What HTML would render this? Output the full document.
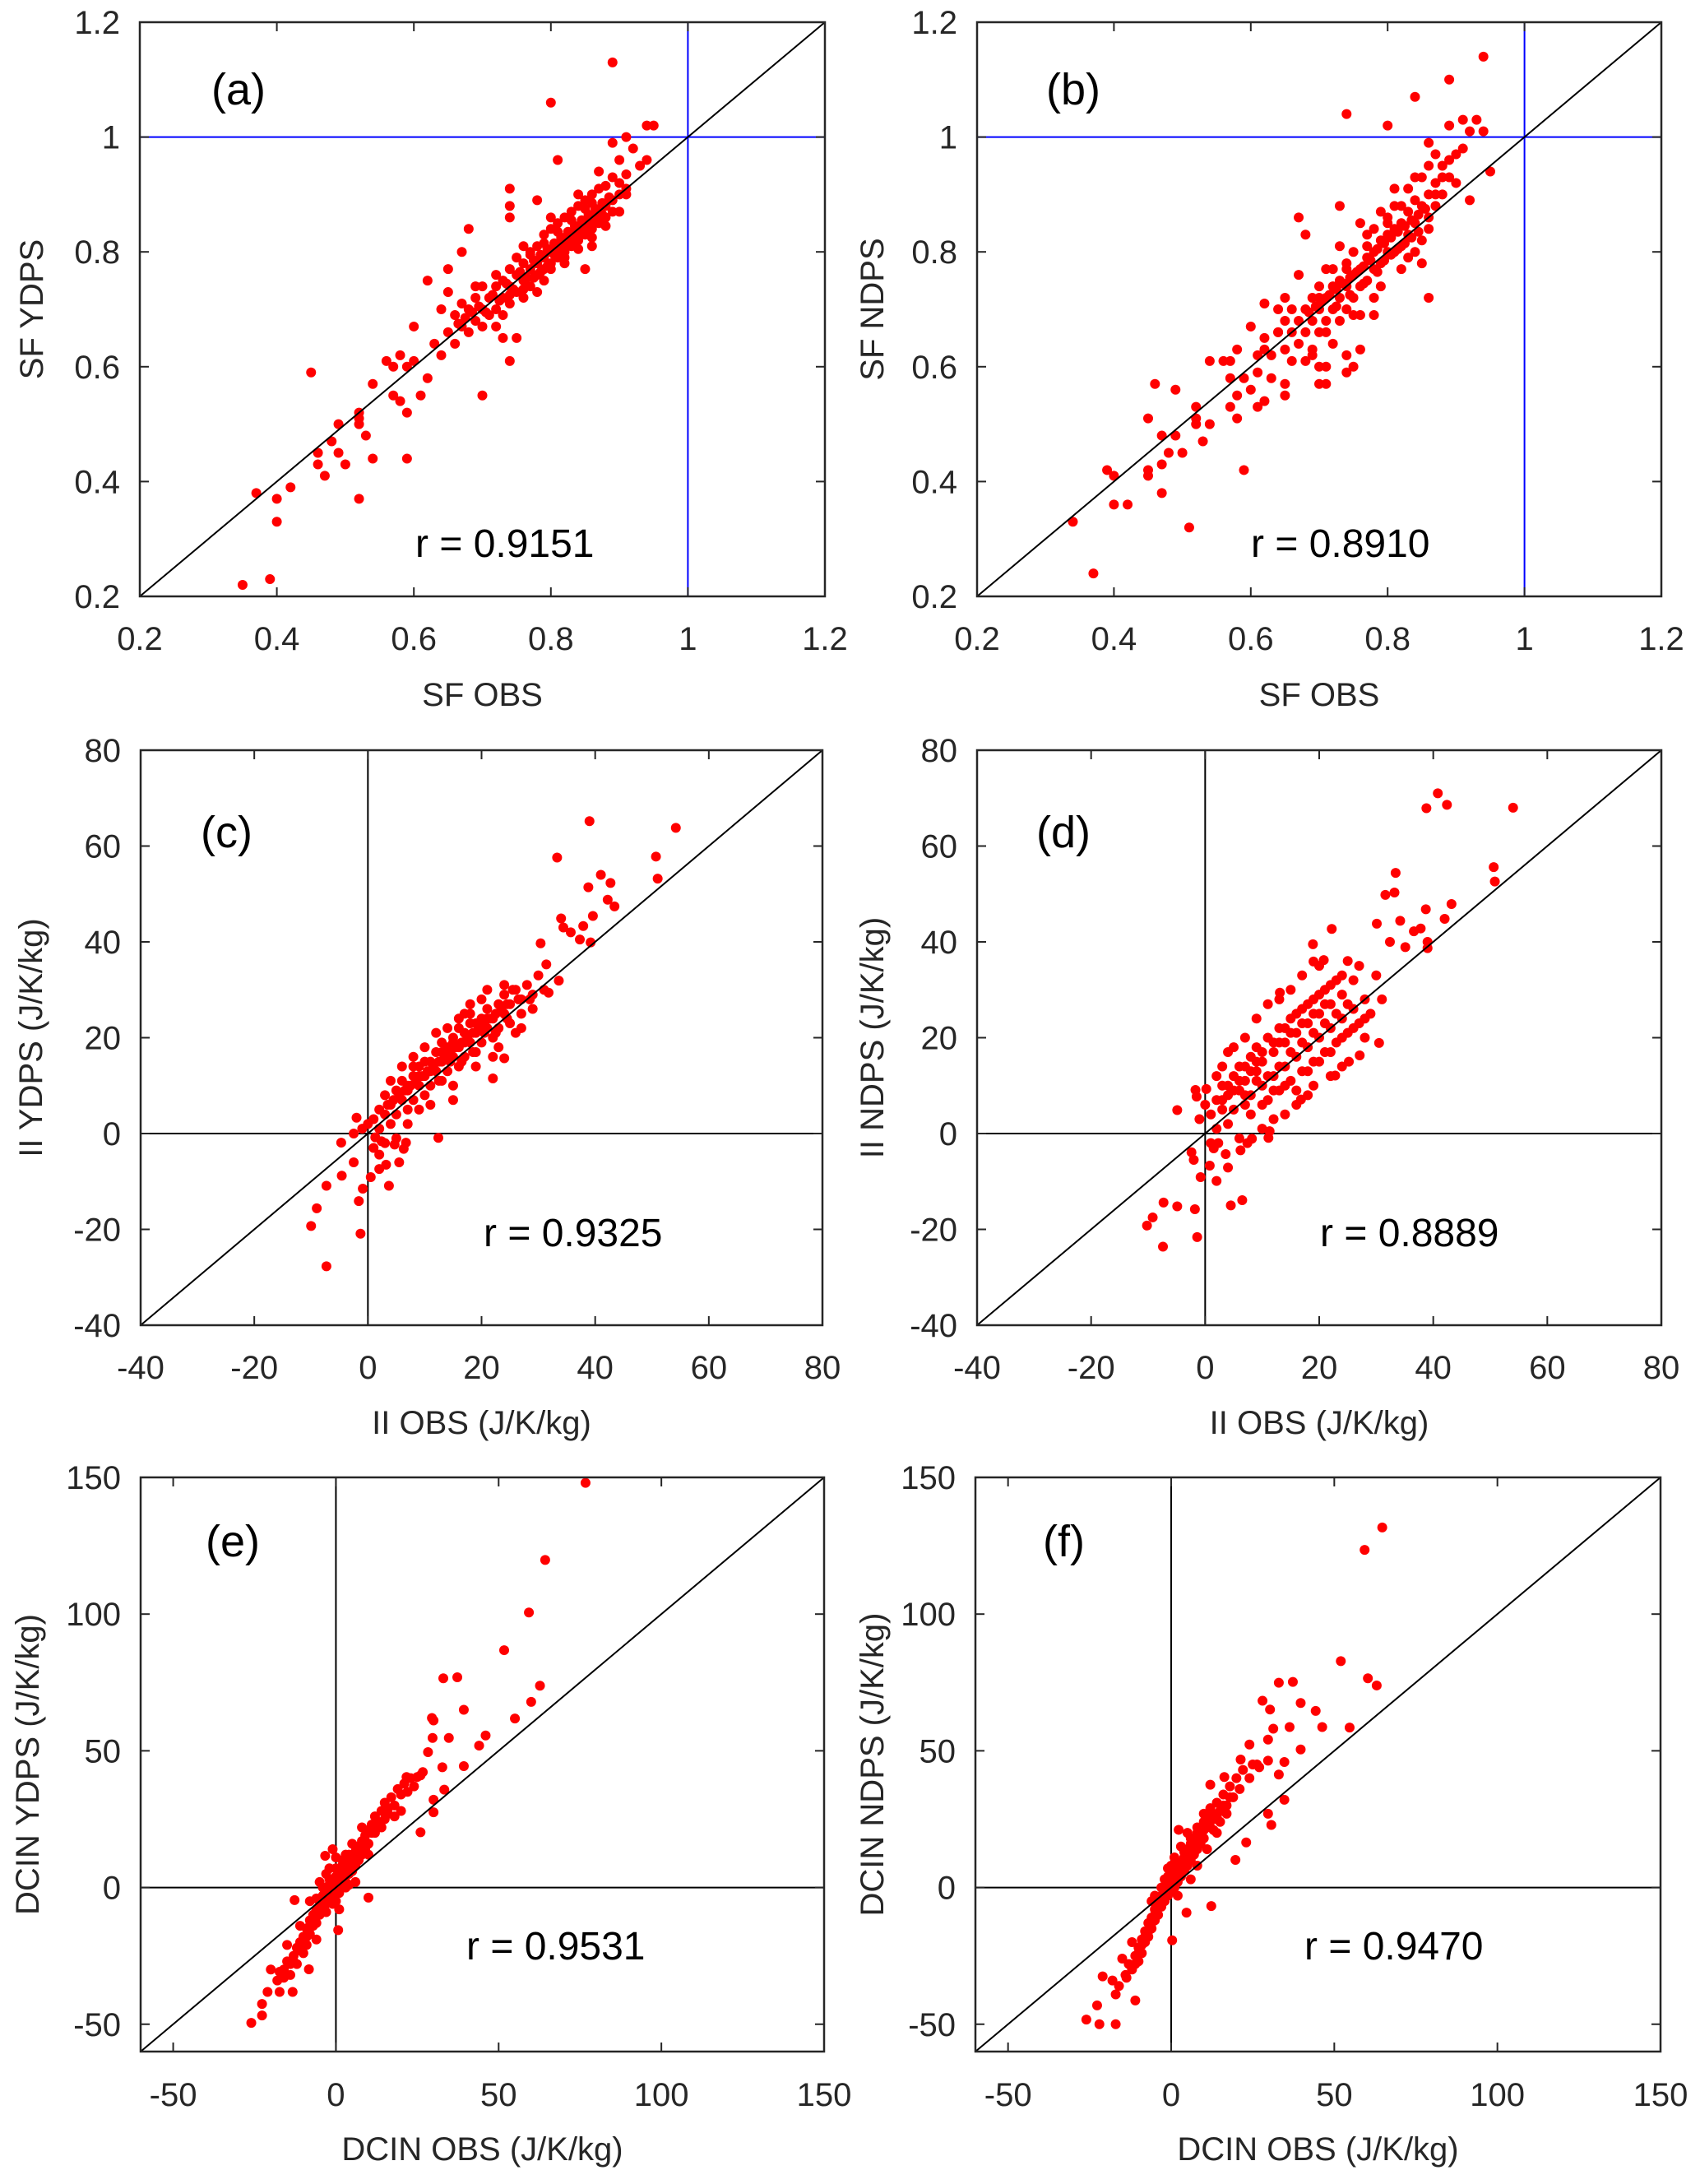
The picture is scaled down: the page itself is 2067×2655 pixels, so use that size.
<!DOCTYPE html>
<html><head><meta charset="utf-8"><style>
html,body{margin:0;padding:0;background:#fff;}
svg{display:block;font-family:"Liberation Sans",sans-serif;}
</style></head><body>
<svg id="fig" width="2067" height="2655" viewBox="0 0 2067 2655" xmlns="http://www.w3.org/2000/svg"></svg>
<script>
// ---- data ----
const ticksSF=[0.2,0.4,0.6,0.8,1,1.2];
const tickLabSF=["0.2","0.4","0.6","0.8","1","1.2"];
const ticksII=[-40,-20,0,20,40,60,80];
const tickLabII=["-40","-20","0","20","40","60","80"];
const ticksDC=[-50,0,50,100,150];
const tickLabDC=["-50","0","50","100","150"];
const rValues=["0.9151","0.8910","0.9325","0.8889","0.9531","0.9470"];

const ptsA=[[0.89,1.13],[0.80,1.06],[0.94,1.02],[0.95,1.02],[0.91,1.0],[0.89,0.99],[0.45,0.59],[0.37,0.38],[0.40,0.37],[0.42,0.39],[0.40,0.33],[0.35,0.22],[0.39,0.23],[0.52,0.37],[0.59,0.44],[0.54,0.44],[0.50,0.43],[0.53,0.48],[0.49,0.45],[0.48,0.47],[0.46,0.45],[0.46,0.43],[0.47,0.41],[0.49,0.50],[0.52,0.50],[0.52,0.52],[0.52,0.51],[0.54,0.57],[0.59,0.52],[0.57,0.55],[0.58,0.54],[0.56,0.61],[0.57,0.60],[0.58,0.62],[0.59,0.60],[0.60,0.61],[0.60,0.67],[0.62,0.58],[0.61,0.55],[0.62,0.75],[0.65,0.77],[0.67,0.80],[0.68,0.84],[0.65,0.73],[0.64,0.70],[0.70,0.55],[0.74,0.61],[0.73,0.65],[0.75,0.65],[0.74,0.91],[0.74,0.88],[0.74,0.86],[0.78,0.89],[0.81,0.96],[0.85,0.77],[0.90,0.87],[0.91,0.90],[0.93,0.95],[0.94,0.96],[0.92,0.98],[0.90,0.96],[0.87,0.94],
[0.63,0.64],[0.64,0.62],[0.65,0.66],[0.66,0.64],[0.66,0.69],[0.67,0.67],[0.67,0.71],[0.68,0.66],[0.68,0.70],[0.69,0.68],[0.69,0.72],[0.70,0.70],[0.70,0.74],[0.70,0.67],[0.71,0.72],[0.71,0.69],[0.72,0.74],[0.72,0.70],[0.72,0.76],[0.73,0.72],[0.73,0.75],[0.73,0.69],[0.74,0.74],[0.74,0.77],[0.74,0.71],[0.75,0.76],[0.75,0.73],[0.75,0.79],[0.76,0.75],[0.76,0.78],[0.76,0.72],[0.77,0.77],[0.77,0.80],[0.77,0.74],[0.78,0.78],[0.78,0.76],[0.78,0.81],[0.79,0.79],[0.79,0.77],[0.79,0.83],[0.80,0.80],[0.80,0.78],[0.80,0.84],[0.81,0.81],[0.81,0.79],[0.81,0.85],[0.82,0.82],[0.82,0.80],[0.82,0.86],[0.83,0.83],[0.83,0.81],[0.83,0.87],[0.84,0.84],[0.84,0.82],[0.84,0.88],[0.85,0.85],[0.85,0.83],[0.85,0.89],[0.86,0.86],[0.86,0.84],[0.86,0.90],[0.87,0.87],[0.87,0.85],[0.87,0.91],[0.88,0.88],[0.88,0.86],[0.89,0.89],[0.89,0.87],[0.90,0.90],[0.90,0.92],[0.91,0.91],[0.79,0.75],[0.76,0.81],[0.72,0.67],[0.69,0.74],[0.82,0.78],[0.84,0.90],[0.86,0.81],[0.80,0.86],[0.78,0.73],
[0.755,0.765],[0.765,0.755],[0.775,0.785],[0.785,0.795],[0.795,0.805],[0.805,0.815],[0.815,0.825],[0.825,0.835],[0.835,0.845],[0.845,0.855],[0.855,0.865],[0.865,0.875],[0.875,0.885],[0.885,0.895],[0.805,0.795],[0.815,0.805],[0.825,0.815],[0.835,0.825],[0.845,0.835],[0.855,0.845],[0.865,0.855],[0.875,0.865],[0.795,0.775],[0.785,0.765],[0.775,0.755],[0.745,0.735],[0.735,0.745],[0.725,0.715],[0.715,0.725],[0.705,0.695],[0.695,0.705],[0.685,0.695],[0.675,0.685],[0.665,0.675],[0.83,0.855],[0.85,0.875],[0.81,0.835],[0.79,0.815],[0.77,0.795],[0.84,0.805],[0.86,0.825],[0.88,0.845],[0.82,0.79],[0.80,0.77],[0.76,0.735],[0.74,0.725],[0.88,0.915],[0.86,0.885],[0.89,0.93],[0.91,0.935]];

const ptsB=[[0.94,1.14],[0.89,1.10],[0.84,1.07],[0.74,1.04],[0.80,1.02],[0.91,1.03],[0.89,1.02],[0.93,1.03],[0.92,1.01],[0.94,1.01],[0.86,0.99],[0.91,0.98],[0.95,0.94],[0.92,0.89],[0.86,0.72],[0.73,0.88],[0.67,0.86],[0.68,0.83],[0.67,0.76],[0.62,0.71],[0.60,0.67],[0.54,0.61],[0.46,0.57],[0.49,0.56],[0.45,0.51],[0.52,0.53],[0.47,0.48],[0.49,0.48],[0.53,0.47],[0.48,0.45],[0.50,0.45],[0.47,0.43],[0.45,0.42],[0.45,0.41],[0.39,0.42],[0.40,0.41],[0.47,0.38],[0.40,0.36],[0.42,0.36],[0.34,0.33],[0.51,0.32],[0.37,0.24],[0.59,0.42],[0.58,0.51],[0.61,0.53],[0.57,0.53],[0.58,0.55],[0.54,0.50],[0.52,0.50],[0.52,0.51],[0.56,0.61],[0.57,0.61],[0.58,0.63],[0.57,0.58],[0.59,0.58],[0.60,0.56],[0.62,0.54],[0.61,0.59],[0.63,0.58],[0.65,0.55],[0.65,0.57],[0.70,0.57],[0.71,0.57],[0.74,0.59],[0.75,0.60],[0.74,0.62],[0.76,0.63],[0.70,0.60],[0.71,0.60],[0.68,0.61],[0.66,0.61],[0.61,0.62],[0.62,0.63],[0.64,0.66],[0.64,0.70],[0.65,0.72],[0.69,0.63],[0.78,0.69],
[0.62,0.65],[0.63,0.62],[0.64,0.66],[0.65,0.63],[0.65,0.68],[0.66,0.66],[0.66,0.70],[0.67,0.64],[0.67,0.68],[0.68,0.70],[0.68,0.66],[0.69,0.72],[0.69,0.68],[0.70,0.70],[0.70,0.74],[0.70,0.66],[0.71,0.72],[0.71,0.68],[0.72,0.74],[0.72,0.70],[0.72,0.77],[0.73,0.72],[0.73,0.75],[0.73,0.68],[0.74,0.74],[0.74,0.78],[0.74,0.70],[0.75,0.76],[0.75,0.72],[0.75,0.80],[0.76,0.77],[0.76,0.74],[0.77,0.79],[0.77,0.75],[0.77,0.83],[0.78,0.80],[0.78,0.77],[0.78,0.84],[0.79,0.82],[0.79,0.78],[0.80,0.83],[0.80,0.80],[0.80,0.86],[0.81,0.84],[0.81,0.80],[0.81,0.88],[0.82,0.85],[0.82,0.81],[0.83,0.87],[0.83,0.83],[0.84,0.89],[0.84,0.85],[0.85,0.88],[0.85,0.82],[0.86,0.90],[0.86,0.86],[0.87,0.92],[0.87,0.88],[0.88,0.90],[0.89,0.93],[0.88,0.95],[0.86,0.95],[0.87,0.97],[0.90,0.92],[0.84,0.93],[0.83,0.79],[0.79,0.74],[0.76,0.69],[0.72,0.64],[0.69,0.62],[0.76,0.85],[0.73,0.81],[0.71,0.77],[0.81,0.91],[0.85,0.78],
[0.785,0.805],[0.795,0.815],[0.805,0.825],[0.815,0.835],[0.825,0.845],[0.835,0.855],[0.845,0.865],[0.855,0.875],[0.775,0.785],[0.765,0.775],[0.755,0.765],[0.745,0.755],[0.735,0.745],[0.725,0.735],[0.715,0.725],[0.705,0.715],[0.695,0.705],[0.685,0.695],[0.805,0.795],[0.815,0.805],[0.825,0.815],[0.835,0.825],[0.845,0.835],[0.795,0.785],[0.785,0.765],[0.765,0.745],[0.745,0.725],[0.725,0.705],[0.82,0.88],[0.80,0.85],[0.83,0.91],[0.85,0.93],[0.79,0.87],[0.86,0.84],[0.84,0.80],[0.82,0.77],[0.78,0.72],[0.75,0.69],[0.71,0.66],[0.77,0.81],[0.74,0.77],[0.70,0.72],[0.87,0.90],[0.88,0.93],[0.89,0.96],[0.90,0.97]];

const ptsC=[[39,65.2],[54.2,63.8],[33.3,57.6],[50.7,57.8],[51,53.2],[41,54],[42.7,52.3],[38.8,51.4],[42.2,48.8],[43.4,47.4],[34,44.9],[39.6,45.4],[34.4,43],[37.9,43.3],[39.2,39.9],[37.3,40.5],[35.7,42],[30.4,39.7],[31.4,35.3],[33.6,31.9],[31.8,29.4],[22,11.5],[24,15.7],[12.4,-0.9],[-7.3,-27.7],[-1.3,-20.9],[-10,-19.3],[-9,-15.6],[-7.3,-10.9],[-1.6,-14.1],[-0.9,-11.5],[3.7,-10.9],[-4.6,-8.8],[-2.5,-6],[0.5,-9.1],[5.5,-6],[-4.7,-1.9],[-2.5,0],[-2,3.3],[2,-7.4],[3.2,-6.5],[6.7,-1.9],[4.7,-2.3],[1.3,-0.8],[2.4,-1.6],[2,-4.4],[6.3,-3.2],
[1,3],[2,1],[2,5],[3,4],[3,8],[4,2],[4,6],[5,9],[5,4],[6,7],[6,11],[7,5],[7,9],[8,12],[8,7],[9,10],[9,14],[10,8],[10,12],[11,15],[11,10],[12,13],[12,17],[13,11],[13,15],[14,18],[14,13],[15,16],[15,20],[16,14],[16,18],[17,21],[17,16],[18,19],[18,23],[19,17],[19,21],[20,24],[20,19],[21,22],[21,26],[22,20],[22,24],[23,27],[23,22],[24,25],[24,29],[25,23],[25,27],[26,30],[27,28],[27,25],[28,31],[29,29],[30,33],[31,30],[29,26],[26,21],[20,28],[18,27],[16,24],[14,22],[10,18],[8,16],[6,14],[12,21],[15,10],[19,14],[23,18],[27,22],[11,6],[7,2],[3,-2],[5,-1],[0,2],[1,-3],[-1,1],[4,11],[17,25],[21,30],[24,31],[13,19],[9,5],[15,7],[22,16],
[10.5,13],[11.5,14],[12.5,15],[13.5,16],[14.5,17],[15.5,18],[16.5,19],[17.5,20],[18.5,21],[19.5,22],[20.5,23],[21.5,24],[22.5,25],[23.5,26],[24.5,27],[9.5,12],[8.5,11],[7.5,10],[6.5,9],[5.5,8],[4.5,7],[3.5,6],[12.5,11],[14.5,15],[16.5,15],[18.5,17],[20.5,21],[22.5,21],[24.5,24],[17,19],[19,23],[21,24],[15,19],[13,17],[11,13],[9,12],[7,10],[26.5,28],[28.5,28],[25.5,30],[8,14],[10,15],[16,22],[18,25]];

const ptsD=[[40.8,71],[38.8,67.9],[42.4,68.6],[54,68],[50.6,55.6],[50.8,52.6],[33.4,54.4],[31.6,49.8],[33.2,50.3],[38.7,46.8],[43.2,47.9],[42,44.8],[34.2,44.4],[30.1,43.8],[22.2,42.7],[18.9,39.5],[36.6,42.2],[37.8,42.8],[39,40],[39,38.7],[32.4,40],[35.1,38.9],[19,35.9],[20.8,36.2],[13.1,29.4],[30.5,18.9],[27.1,16.3],[25.2,15],[22.8,12.1],[16.8,7.1],[-4.9,4.9],[-1.7,9.1],[-1.5,7.7],[0.2,9.3],[-7.3,-14.4],[-4.9,-15.2],[-1.8,-15.8],[-9.2,-17.5],[-10.2,-19.2],[-7.4,-23.6],[-1.4,-21.6],[4.5,-15],[6.5,-13.9],[2,-9.9],[-0.8,-9.1],[4,-7.1],[-2,-5.5],[0.8,-6.7],[-2.4,-3.9],[1.5,-3.1],[3.6,-4.3],[6.2,-3.5],[8.2,-1.1],[11.1,-0.9],[11.3,0.5],[7.4,-2],[2.3,-2],
[1,4],[2,1],[2,7],[3,5],[3,10],[4,2],[4,8],[5,12],[5,5],[6,9],[6,14],[7,6],[7,11],[8,16],[8,8],[9,13],[9,18],[10,10],[10,15],[11,20],[11,7],[12,12],[12,17],[13,22],[13,9],[14,14],[14,19],[15,24],[15,11],[16,16],[16,21],[17,26],[17,13],[18,18],[18,23],[19,28],[19,15],[20,20],[20,25],[21,30],[21,17],[22,22],[22,27],[23,32],[23,19],[24,24],[24,29],[25,21],[26,26],[26,32],[27,23],[28,28],[29,25],[30,33],[31,28],[7,20],[9,24],[11,27],[13,28],[5,18],[3,14],[15,30],[17,33],[20,35],[25,36],[22,12],[19,10],[16,6],[14,4],[10,1],[6,-1],[28,20],[24,14],[2,12],[0,6],[1,-2],[-1,3],[4,17],[12,3],[27,35],[18,8],
[12,19],[14,22],[16,25],[18,27],[20,29],[22,31],[24,33],[10,17],[8,13],[6,11],[4,10],[13,14],[15,17],[17,19],[19,21],[21,23],[23,25],[25,27],[11,12],[9,11],[7,8],[14,10],[18,13],[22,17],[26,22],[12,9],[10,6],[8,4],[16,9],[20,15],[24,20],[28,24],[13,19],[15,21],[17,23],[19,25],[21,27],[9,15],[7,14],[5,9],[3,7]];

const ptsE=[[76.7,148],[64.3,119.8],[59.3,100.6],[51.7,86.8],[33,76.5],[37.3,76.9],[62.7,73.8],[60,67.9],[39.3,65],[55,61.8],[30,61.1],[29.5,62],[46,55.6],[44,51.9],[34.7,54.7],[29.7,54.7],[28.3,49.5],[39.3,44.4],[32.7,44],[26.7,42.2],[25,40.4],[21.7,40.4],[33.3,35.8],[30,32.1],[30,27.5],[26,20.2],[10,-3.7],[-3.3,11.6],[-12.7,-4.6],[-26,-49.5],[-22.7,-46.8],[-22.7,-42.6],[-21,-38.2],[-17.3,-38.2],[-13.3,-38.2],[-17.3,-30.8],[-8.3,-29.9],[0.7,-15.6],
[-18,-34],[-16,-30],[-15,-27],[-14,-32],[-13,-25],[-12,-28],[-12,-22],[-11,-20],[-10,-24],[-10,-18],[-9,-15],[-9,-21],[-8,-12],[-8,-17],[-7,-10],[-7,-14],[-6,-8],[-6,-13],[-5,-5],[-5,-10],[-4,-3],[-4,-7],[-3,-1],[-3,-6],[-2,1],[-2,-4],[-1,3],[-1,-2],[0,0],[0,4],[0,-5],[1,2],[1,6],[2,4],[2,0],[3,7],[3,2],[4,9],[4,5],[5,11],[5,6],[6,13],[6,8],[7,15],[7,10],[8,17],[8,12],[9,19],[9,14],[10,21],[10,16],[11,23],[12,20],[12,26],[13,24],[14,28],[15,25],[15,31],[16,29],[17,33],[18,30],[19,36],[20,34],[21,38],[22,35],[23,40],[24,37],[26,41],[-2,7],[-5,2],[2,10],[5,16],[-8,-5],[-11,-14],[6,2],[10,12],[14,22],[18,26],[-20,-30],[-15,-21],[-6,-19],[3,12],[8,22],[1,-8],[-3,5],[4,1],[20,28],[0,11],[-1,14],
[-3,-3],[-2,-2],[-1,0],[1,1],[2,3],[3,5],[4,7],[5,9],[6,11],[7,12],[8,14],[-4,-5],[-5,-8],[-6,-10],[-7,-12],[-8,-14],[-9,-18],[-10,-20],[-11,-23],[-13,-27],[0,2],[1,4],[-1,1],[9,17],[11,20],[13,22],[16,27],[-6,-4],[-4,0],[-2,3],[0,7],[2,8],[4,12],[6,15],[-14,-28],[-16,-33],[-3,-9],[-1,-6],[1,-2],[3,0]];

const ptsF=[[64.7,131.7],[59.3,123.5],[52,82.8],[60.3,76.5],[63,73.9],[33,74.9],[37.3,75.2],[28,68.3],[39.7,67.5],[30.3,65.1],[44.3,64.6],[46.3,58.7],[54.7,58.5],[36.3,58.7],[31.3,58.1],[39.7,50.5],[24,52.3],[29.7,54.1],[21.3,46.8],[26.3,45],[29.7,46.4],[34.7,45.9],[33,41.3],[12,37.6],[16.3,40.4],[34.7,32.1],[29.7,27],[30.7,22.9],[23,16.5],[19.7,10.1],[12.3,-6.8],[4.7,-9.2],[0.3,-19.3],[-11,-41.3],[-17,-50],[-22,-50],[-26,-48.3],[-22.7,-43.1],[-17,-39.1],[-21,-32.5],[-13.7,-33],[2.3,21.1],
[-16,-36],[-14,-32],[-13,-28],[-12,-30],[-11,-25],[-10,-22],[-10,-27],[-9,-19],[-9,-24],[-8,-16],[-8,-20],[-7,-13],[-7,-18],[-6,-11],[-6,-15],[-5,-8],[-5,-12],[-4,-5],[-4,-10],[-3,-3],[-3,-7],[-2,-1],[-2,-5],[-1,1],[-1,-3],[0,3],[0,-1],[1,5],[1,0],[2,7],[2,2],[3,9],[3,4],[4,11],[4,6],[5,14],[5,8],[6,16],[6,10],[7,18],[7,12],[8,20],[8,14],[9,22],[9,16],[10,24],[10,18],[11,26],[12,22],[12,29],[13,25],[14,31],[15,28],[16,34],[17,30],[18,37],[19,33],[20,40],[21,36],[22,43],[24,40],[25,45],[27,44],[-1,7],[1,11],[3,15],[-18,-34],[-15,-26],[5,20],[-2,3],[6,3],[8,8],[11,14],[14,20],[-6,-5],[0,8],[2,-3],[-12,-20],
[-3,-5],[-2,-3],[-1,-1],[0,1],[1,3],[2,5],[3,7],[4,9],[5,11],[6,13],[7,15],[8,17],[9,19],[10,21],[11,23],[12,25],[13,27],[-4,-7],[-5,-10],[-6,-13],[-7,-16],[-8,-18],[-9,-21],[-10,-24],[-11,-28],[0,5],[2,9],[4,13],[6,18],[8,22],[10,27],[-1,4],[-3,0],[-5,-3],[14,26],[16,30],[18,33],[13,21],[15,24],[17,27]];

// ---- rendering ----
const NS="http://www.w3.org/2000/svg";
const svg=document.getElementById('fig');
function mk(tag,attrs,parent){const e=document.createElementNS(NS,tag);for(const k in attrs)e.setAttribute(k,attrs[k]);(parent||svg).appendChild(e);return e;}

const panels=[
 {id:"a",x0:170,x1:1003,y0:27,y1:725,min:0.2,max:1.2,ticks:ticksSF,labs:tickLabSF,pts:ptsA,ref:1,refColor:"#0000ff",xl:"SF OBS",yl:"SF YDPS",r:rValues[0],lx:257,ly:127,rx:505,ry:677,tly:790,xly:858,ylx:52},
 {id:"b",x0:1188,x1:2020,y0:27,y1:725,min:0.2,max:1.2,ticks:ticksSF,labs:tickLabSF,pts:ptsB,ref:1,refColor:"#0000ff",xl:"SF OBS",yl:"SF NDPS",r:rValues[1],lx:1272,ly:127,rx:1521,ry:677,tly:790,xly:858,ylx:1074},
 {id:"c",x0:171,x1:1000,y0:912,y1:1611,min:-40,max:80,ticks:ticksII,labs:tickLabII,pts:ptsC,ref:0,refColor:"#000",xl:"II OBS (J/K/kg)",yl:"II YDPS (J/K/kg)",r:rValues[2],lx:244,ly:1030,rx:588,ry:1515,tly:1676,xly:1743,ylx:51},
 {id:"d",x0:1188,x1:2020,y0:912,y1:1611,min:-40,max:80,ticks:ticksII,labs:tickLabII,pts:ptsD,ref:0,refColor:"#000",xl:"II OBS (J/K/kg)",yl:"II NDPS (J/K/kg)",r:rValues[3],lx:1260,ly:1030,rx:1605,ry:1515,tly:1676,xly:1743,ylx:1074},
 {id:"e",x0:171,x1:1002,y0:1796,y1:2494,min:-60,max:150,ticks:ticksDC,labs:tickLabDC,pts:ptsE,ref:0,refColor:"#000",xl:"DCIN OBS (J/K/kg)",yl:"DCIN YDPS (J/K/kg)",r:rValues[4],lx:250,ly:1892,rx:567,ry:2382,tly:2560,xly:2626,ylx:47},
 {id:"f",x0:1186,x1:2019,y0:1796,y1:2494,min:-60,max:150,ticks:ticksDC,labs:tickLabDC,pts:ptsF,ref:0,refColor:"#000",xl:"DCIN OBS (J/K/kg)",yl:"DCIN NDPS (J/K/kg)",r:rValues[5],lx:1268,ly:1892,rx:1586,ry:2382,tly:2560,xly:2626,ylx:1074}
];

panels.forEach(p=>{
 const g=mk('g',{});
 
 
 const sx=v=>p.x0+(v-p.min)/(p.max-p.min)*(p.x1-p.x0);
 const sy=v=>p.y1-(v-p.min)/(p.max-p.min)*(p.y1-p.y0);
 const vl=mk('line',{x1:sx(p.ref),x2:sx(p.ref),y1:p.y0,y2:p.y1,stroke:p.refColor,'stroke-width':2},g);
 
 
 const hl=mk('line',{x1:p.x0,x2:p.x1,y1:sy(p.ref),y2:sy(p.ref),stroke:p.refColor,'stroke-width':2},g);
 
 
 p.pts.forEach(d=>{
  const c=mk('circle',{cx:sx(d[0]),cy:sy(d[1]),r:6,fill:'#ff0000'},g);
  
  
 });
 const dl=mk('line',{x1:sx(p.min),y1:sy(p.min),x2:sx(p.max),y2:sy(p.max),stroke:'#000','stroke-width':2},g);
 
 
 const bx=mk('rect',{x:p.x0,y:p.y0,width:p.x1-p.x0,height:p.y1-p.y0,fill:'none',stroke:'#262626','stroke-width':2.5},g);
 
 
 p.ticks.forEach((t,i)=>{
  const X=sx(t),Y=sy(t),L=11;
  [[X,p.y1,X,p.y1-L],[X,p.y0,X,p.y0+L],[p.x0,Y,p.x0+L,Y],[p.x1,Y,p.x1-L,Y]].forEach(s=>{
   const tk=mk('line',{x1:s[0],y1:s[1],x2:s[2],y2:s[3],stroke:'#262626','stroke-width':2},g);
   
   
  });
  const xt=mk('text',{x:X,y:p.tly,'text-anchor':'middle','font-size':40,fill:'#262626'},g);
  xt.textContent=p.labs[i];
  
  
  const yt=mk('text',{x:p.x0-24,y:Y+14,'text-anchor':'end','font-size':40,fill:'#262626'},g);
  yt.textContent=p.labs[i];
  
  
 });
 const xa=mk('text',{x:(p.x0+p.x1)/2,y:p.xly,'text-anchor':'middle','font-size':40,fill:'#262626'},g);
 xa.textContent=p.xl;
 
 
 const cy=(p.y0+p.y1)/2;
 const ya=mk('text',{x:p.ylx,y:cy,'text-anchor':'middle','font-size':40,fill:'#262626',transform:'rotate(-90 '+p.ylx+' '+cy+')'},g);
 ya.textContent=p.yl;
 
 
 const pl=mk('text',{x:p.lx,y:p.ly,'font-size':54,fill:'#000'},g);
 pl.textContent='('+p.id+')';
 
 
 const rt=mk('text',{x:p.rx,y:p.ry,'font-size':48,fill:'#000'},g);
 rt.textContent='r = '+p.r;
 
 
});
</script>
</body></html>
